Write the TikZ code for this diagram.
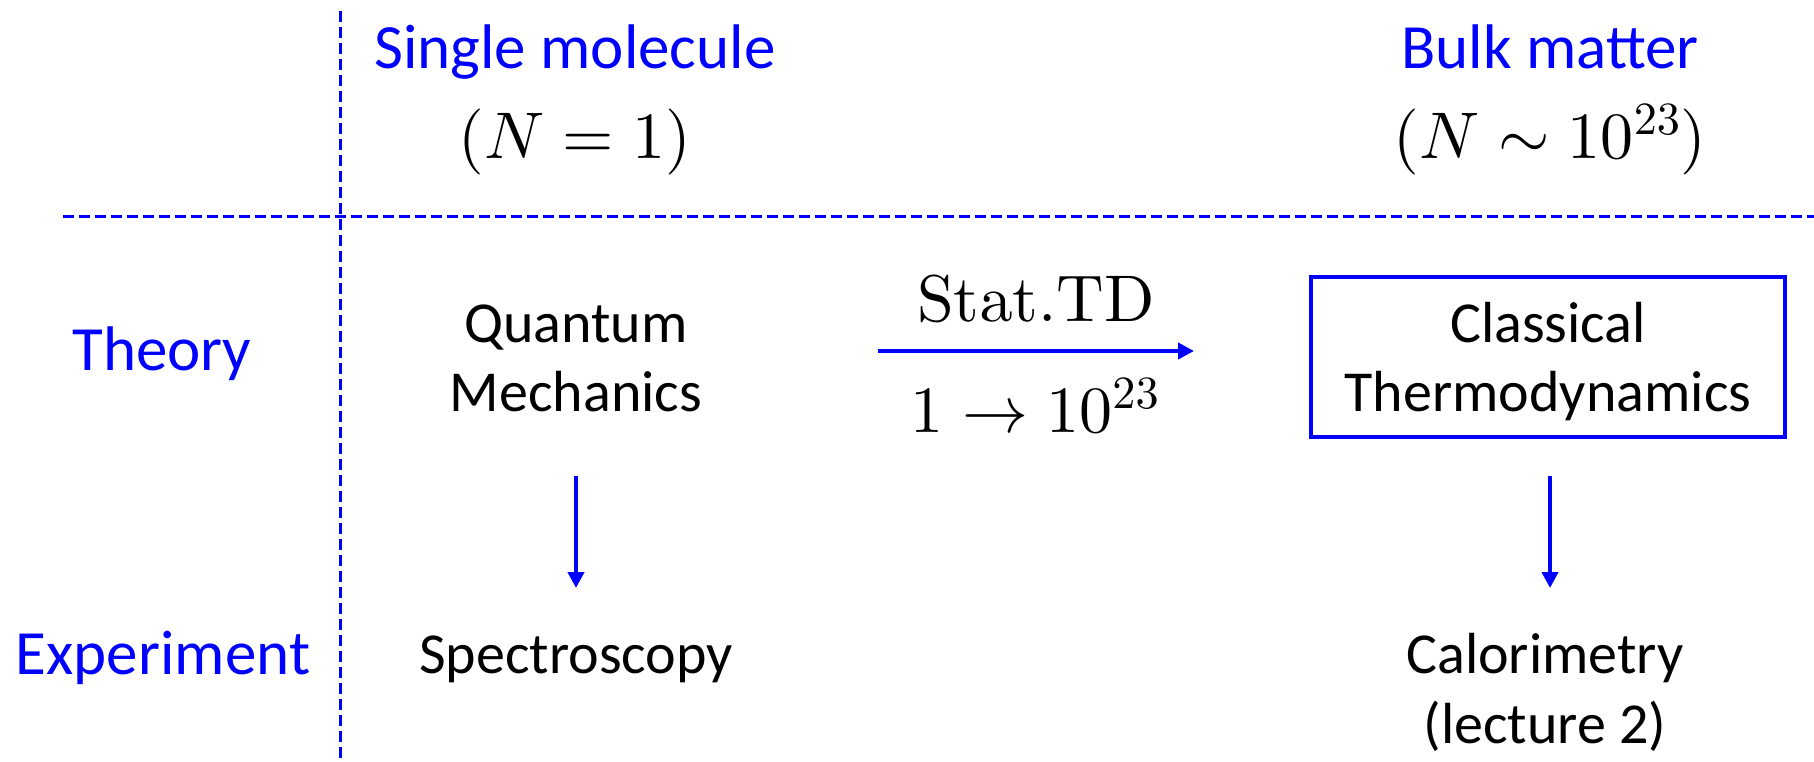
\documentclass[tikz,border=0pt]{standalone}
\usepackage[no-math]{fontspec}
\setmainfont{Carlito}
\DeclareFontShape{OT1}{cmr}{m}{n}{<->cmr10}{}
\DeclareFontShape{OML}{cmm}{m}{it}{<->cmmi10}{}
\DeclareFontShape{OMS}{cmsy}{m}{n}{<->cmsy10}{}
\usetikzlibrary{arrows.meta}
\definecolor{pblue}{RGB}{0,0,255}
\tikzset{
 lbl/.style={text=pblue, font=\fontsize{63}{76}\selectfont, inner sep=0pt, anchor=base},
 txt/.style={text=black, font=\fontsize{58}{70}\selectfont, inner sep=0pt, anchor=base},
 mth/.style={text=black, font=\fontsize{66}{80}\selectfont, inner sep=0pt, anchor=base},
 gridline/.style={draw=pblue, line width=3pt, dash pattern=on 11pt off 5pt},
 arr/.style={draw=pblue, line width=4pt, -{Triangle[length=16pt,width=16pt]}},
 boxed/.style={draw=pblue, line width=4pt, minimum width=474pt, minimum height=160pt, inner sep=0pt}
}
\begin{document}
\begin{tikzpicture}[x=1pt,y=-1pt]
\useasboundingbox (0,0) rectangle (1814,761);
% grid lines
\coordinate (vt) at (340,11);
\coordinate (vb) at (340,758);
\coordinate (hl) at (63,216);
\coordinate (hr) at (1814,216);
\draw[gridline] (vt) -- (vb);
\draw[gridline] (hl) -- (hr);
% column headers
\node[lbl] (single) at (575,68) {Single molecule};
\node[mth] (n1) at (575,158) {$(N=1)$};
\node[lbl] (bulk) at (1550,68) {Bulk matter};
\node[mth] (nbulk) at (1550,158) {$(N\sim 10^{23})$};
% row headers
\node[lbl] (theory) at (162,370) {Theory};
\node[lbl] (exper) at (163,674) {Experiment};
% theory row
\node[txt] (qm1) at (576,342) {Quantum};
\node[txt] (qm2) at (576,411) {Mechanics};
\node[boxed] (cbox) at (1548,357) {};
\node[txt] (ct1) at (1548,342) {Classical};
\node[txt] (ct2) at (1548,411) {Thermodynamics};
% stat TD arrow
\coordinate (sa) at (878,351);
\coordinate (sb) at (1194,351);
\draw[arr] (sa) -- (sb);
\node[mth] (stat) at (1036,321) {$\mathrm{Stat.TD}$};
\node[mth] (ten) at (1035,432) {$1\rightarrow 10^{23}$};
% experiment row
\node[txt] (spec) at (576,673) {Spectroscopy};
\node[txt] (cal1) at (1545,673) {Calorimetry};
\node[txt] (cal2) at (1545,743) {(lecture 2)};
% down arrows
\coordinate (d1a) at (576,476);
\coordinate (d1b) at (576,588);
\coordinate (d2a) at (1550,476);
\coordinate (d2b) at (1550,588);
\draw[arr] (d1a) -- (d1b);
\draw[arr] (d2a) -- (d2b);
\end{tikzpicture}
\end{document}
